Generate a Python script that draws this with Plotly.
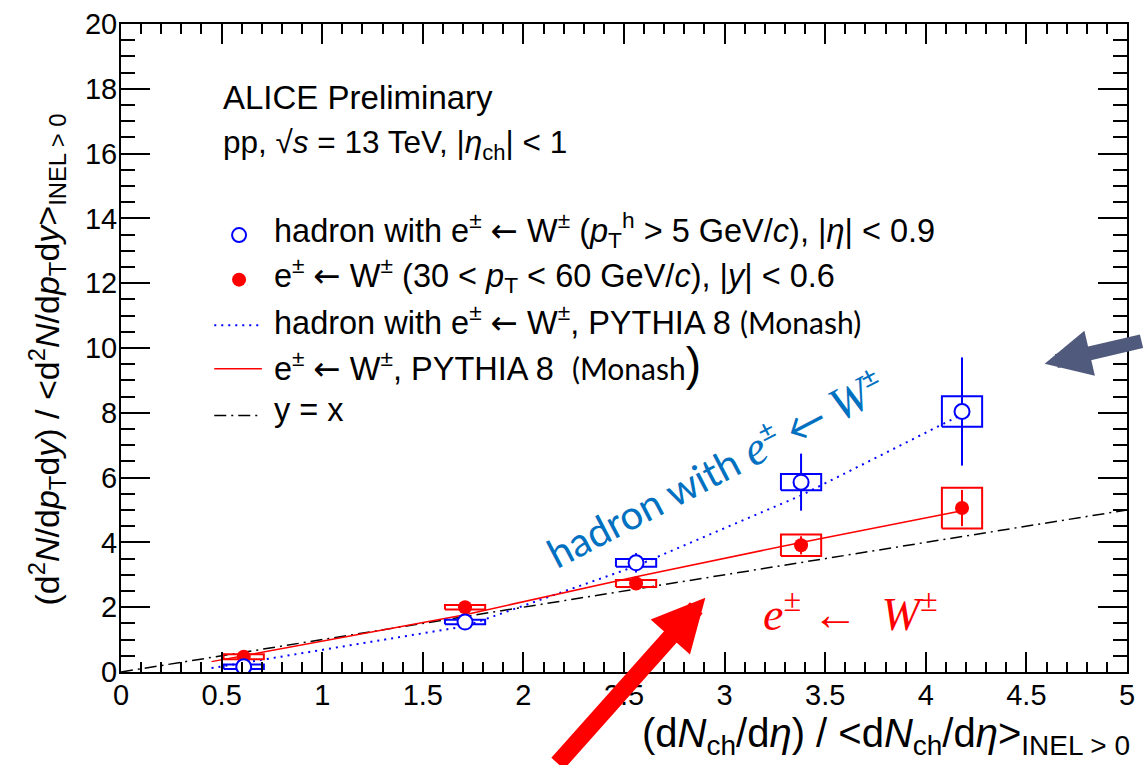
import plotly.graph_objects as go

# ---------------- data ----------------
mult_x = [0.61, 1.71, 2.56, 3.38, 4.18]
hadron_y = [0.16, 1.54, 3.37, 5.86, 8.04]
hadron_stat = [0.05, 0.06, 0.30, 0.88, 1.67]
hadron_syst = [0.07, 0.07, 0.12, 0.25, 0.47]
ele_y = [0.47, 2.00, 2.73, 3.91, 5.06]
ele_stat = [0.05, 0.06, 0.15, 0.28, 0.56]
ele_syst = [0.08, 0.07, 0.11, 0.33, 0.63]
syst_halfwidth = [0.1, 0.1, 0.1, 0.1, 0.1]

pythia_x = [0.45, 1.71, 2.56, 3.38, 4.18]
pythia_hadron_y = [0.12, 1.41, 3.27, 5.45, 7.95]
pythia_ele_y = [0.32, 1.77, 2.94, 4.00, 4.98]

diag_x = [0, 5]
diag_y = [0, 5]

x_ticks = [0, 0.5, 1, 1.5, 2, 2.5, 3, 3.5, 4, 4.5, 5]
x_ticklabels = ["0", "0.5", "1", "1.5", "2", "2.5", "3", "3.5", "4", "4.5", "5"]
y_ticks = [0, 2, 4, 6, 8, 10, 12, 14, 16, 18, 20]
y_ticklabels = [str(v) for v in y_ticks]

BLUE = "rgb(0,0,255)"
RED = "rgb(255,0,0)"
FONT = "Liberation Sans, Arial, sans-serif"
W, H = 1143, 765
ML, MR, MT, MB = 121, 8, 18, 93
PW, PH = W - ML - MR, H - MT - MB


def px(xp):
    return (xp - ML) / PW


def py(yp):
    return (H - MB - yp) / PH


def box_path(xs, ys, es, hws):
    bx, by = [], []
    for x, y, e, hw in zip(xs, ys, es, hws):
        bx += [x - hw, x + hw, x + hw, x - hw, x - hw, None]
        by += [y - e, y - e, y + e, y + e, y - e, None]
    return bx, by


fig = go.Figure()

# y = x reference
fig.add_trace(go.Scatter(x=diag_x, y=diag_y, mode="lines",
                         line=dict(color="black", width=1.5, dash="12px,5px,2px,5px"),
                         showlegend=False))
# PYTHIA curves
fig.add_trace(go.Scatter(x=pythia_x, y=pythia_hadron_y, mode="lines",
                         line=dict(color=BLUE, width=2, dash="2px,5px"), showlegend=False))
fig.add_trace(go.Scatter(x=pythia_x, y=pythia_ele_y, mode="lines",
                         line=dict(color=RED, width=1.5), showlegend=False))

# systematic boxes
bx, by = box_path(mult_x, hadron_y, hadron_syst, syst_halfwidth)
fig.add_trace(go.Scatter(x=bx, y=by, mode="lines", line=dict(color=BLUE, width=2),
                         showlegend=False, connectgaps=False))
bx, by = box_path(mult_x, ele_y, ele_syst, syst_halfwidth)
fig.add_trace(go.Scatter(x=bx, y=by, mode="lines", line=dict(color=RED, width=2),
                         showlegend=False, connectgaps=False))

# data points with statistical errors
fig.add_trace(go.Scatter(x=mult_x, y=ele_y, mode="markers",
                         marker=dict(symbol="circle", size=14, color=RED, line=dict(width=0)),
                         error_y=dict(type="data", array=ele_stat, color=RED, thickness=2, width=0),
                         showlegend=False))
fig.add_trace(go.Scatter(x=mult_x, y=hadron_y, mode="markers",
                         marker=dict(symbol="circle", size=15, color="white",
                                     line=dict(color=BLUE, width=2)),
                         error_y=dict(type="data", array=hadron_stat, color=BLUE, thickness=2, width=0),
                         showlegend=False))

annotations = []
shapes = []


def txt(xp, yp, text, size, color="black", family=FONT, xanchor="left", angle=0):
    annotations.append(dict(x=px(xp), y=py(yp), xref="paper", yref="paper", text=text,
                            showarrow=False, xanchor=xanchor, yanchor="middle",
                            textangle=angle, font=dict(size=size, color=color, family=family)))


ARR = "<span style='font-family:\"DejaVu Sans\"'>←</span>"
txt(222, 92, "ALICE Preliminary", 33)
txt(222, 140, "pp, √<i>s</i> = 13 TeV, |<i>η</i><sub>ch</sub>| &lt; 1", 31.5)

leg_rows = [231, 276, 322, 366, 413]
mon = "<span style='font-family:Lato;font-size:30px'>(Monash)</span>"
leg_text = [
    "hadron with e<sup>±</sup> " + ARR + " W<sup>±</sup> (<i>p</i><sub>T</sub><sup>h</sup> &gt; 5 GeV/<i>c</i>), |<i>η</i>| &lt; 0.9",
    "e<sup>±</sup> " + ARR + " W<sup>±</sup> (30 &lt; <i>p</i><sub>T</sub> &lt; 60 GeV/<i>c</i>), |<i>y</i>| &lt; 0.6",
    "hadron with e<sup>±</sup> " + ARR + " W<sup>±</sup>, PYTHIA 8 " + mon,
    "e<sup>±</sup> " + ARR + " W<sup>±</sup>, PYTHIA 8  <span style='font-family:Lato;font-size:30px'>(Monash</span><span style='font-size:46px'>)</span>",
    "y = x",
]
for yy, t in zip(leg_rows, leg_text):
    txt(273, yy - 5, t, 32.5)

# legend keys
shapes.append(dict(type="circle", xref="paper", yref="paper", xsizemode="pixel", ysizemode="pixel",
                   xanchor=px(240), yanchor=py(leg_rows[0]), x0=-7, x1=7, y0=-7, y1=7,
                   line=dict(color=BLUE, width=2), fillcolor="white"))
shapes.append(dict(type="circle", xref="paper", yref="paper", xsizemode="pixel", ysizemode="pixel",
                   xanchor=px(240), yanchor=py(leg_rows[1]), x0=-7, x1=7, y0=-7, y1=7,
                   line=dict(color=RED, width=0), fillcolor=RED))
for yy, col, dash, wd in [(leg_rows[2], BLUE, "2px,5px", 2), (leg_rows[3], RED, "solid", 1.5),
                          (leg_rows[4], "black", "12px,5px,2px,5px", 1.5)]:
    shapes.append(dict(type="line", xref="paper", yref="paper", x0=px(215), x1=px(263),
                       y0=py(yy), y1=py(yy), line=dict(color=col, width=wd, dash=dash)))

# hand-drawn style labels
SERIF = "'Liberation Serif'"
annotations.append(dict(x=px(720), y=py(466), xref="paper", yref="paper",
                        text="hadron with <span style=\"font-family:" + SERIF + ";font-size:47px\"><i>e</i></span><sup>±</sup> ← "
                             "<span style=\"font-family:" + SERIF + ";font-size:47px\"><i>W</i></span><sup>±</sup>",
                        showarrow=False, xanchor="center", yanchor="middle", textangle=-27.5,
                        font=dict(size=40, color="rgb(0,112,192)", family="Lato, sans-serif")))
annotations.append(dict(x=px(856), y=py(610), xref="paper", yref="paper",
                        text="<i>e</i><sup>±</sup>&nbsp;←&nbsp;&nbsp;<i>W</i><sup>±</sup>",
                        showarrow=False, xanchor="center", yanchor="middle",
                        font=dict(size=46, color=RED, family="Liberation Serif, serif")))

# arrows
annotations.append(dict(x=px(710), y=py(597), xref="paper", yref="paper", text="",
                        showarrow=True, ax=-149, ay=181, arrowcolor=RED, arrowwidth=17,
                        arrowhead=2, arrowsize=0.62))
annotations.append(dict(x=px(1052), y=py(361), xref="paper", yref="paper", text="",
                        showarrow=True, ax=104, ay=-23, arrowcolor="rgb(80,90,125)", arrowwidth=14,
                        arrowhead=2, arrowsize=0.66))

# axis titles (ROOT style placement)
annotations.append(dict(x=px(1140), y=py(737), xref="paper", yref="paper",
                        text="(d<i>N</i><sub>ch</sub>/d<i>η</i>) / &lt;d<i>N</i><sub>ch</sub>/d<i>η</i>&gt;<sub>INEL &gt; 0</sub>",
                        showarrow=False, xanchor="right", yanchor="middle",
                        font=dict(size=40, color="black", family=FONT)))
annotations.append(dict(x=px(46), y=py(357), xref="paper", yref="paper",
                        text="(d<sup>2</sup><i>N</i>/d<i>p</i><sub>T</sub>d<i>y</i>) / &lt;d<sup>2</sup><i>N</i>/d<i>p</i><sub>T</sub>d<i>y</i>&gt;<sub>INEL &gt; 0</sub>",
                        showarrow=False, xanchor="center", yanchor="middle", textangle=-90,
                        font=dict(size=34, color="black", family=FONT)))

fig.update_layout(
    width=W, height=H,
    margin=dict(l=ML, r=MR, t=MT, b=MB),
    paper_bgcolor="white", plot_bgcolor="white",
    font=dict(family=FONT, color="black"),
    annotations=annotations, shapes=shapes,
    showlegend=False,
)
fig.update_xaxes(range=[0, 5], tickmode="array", tickvals=x_ticks, ticktext=x_ticklabels,
                 ticks="inside", ticklen=20, tickwidth=1.5, tickcolor="black",
                 minor=dict(dtick=0.1, tick0=0, ticks="inside", ticklen=10, tickwidth=1.5, tickcolor="black"),
                 showline=True, linewidth=2, linecolor="black", mirror="ticks",
                 showgrid=False, zeroline=False, tickfont=dict(size=29, family=FONT),
                 ticklabelstandoff=-4)
fig.update_yaxes(range=[0, 20], tickmode="array", tickvals=y_ticks, ticktext=y_ticklabels,
                 ticks="inside", ticklen=29, tickwidth=1.5, tickcolor="black",
                 minor=dict(dtick=0.5, tick0=0, ticks="inside", ticklen=14, tickwidth=1.5, tickcolor="black"),
                 showline=True, linewidth=2, linecolor="black", mirror="ticks",
                 showgrid=False, zeroline=False, tickfont=dict(size=29, family=FONT),
                 ticklabelstandoff=-4)

fig.write_html("out.html", config={"displayModeBar": False},
               post_script="document.body.style.margin='0';")
